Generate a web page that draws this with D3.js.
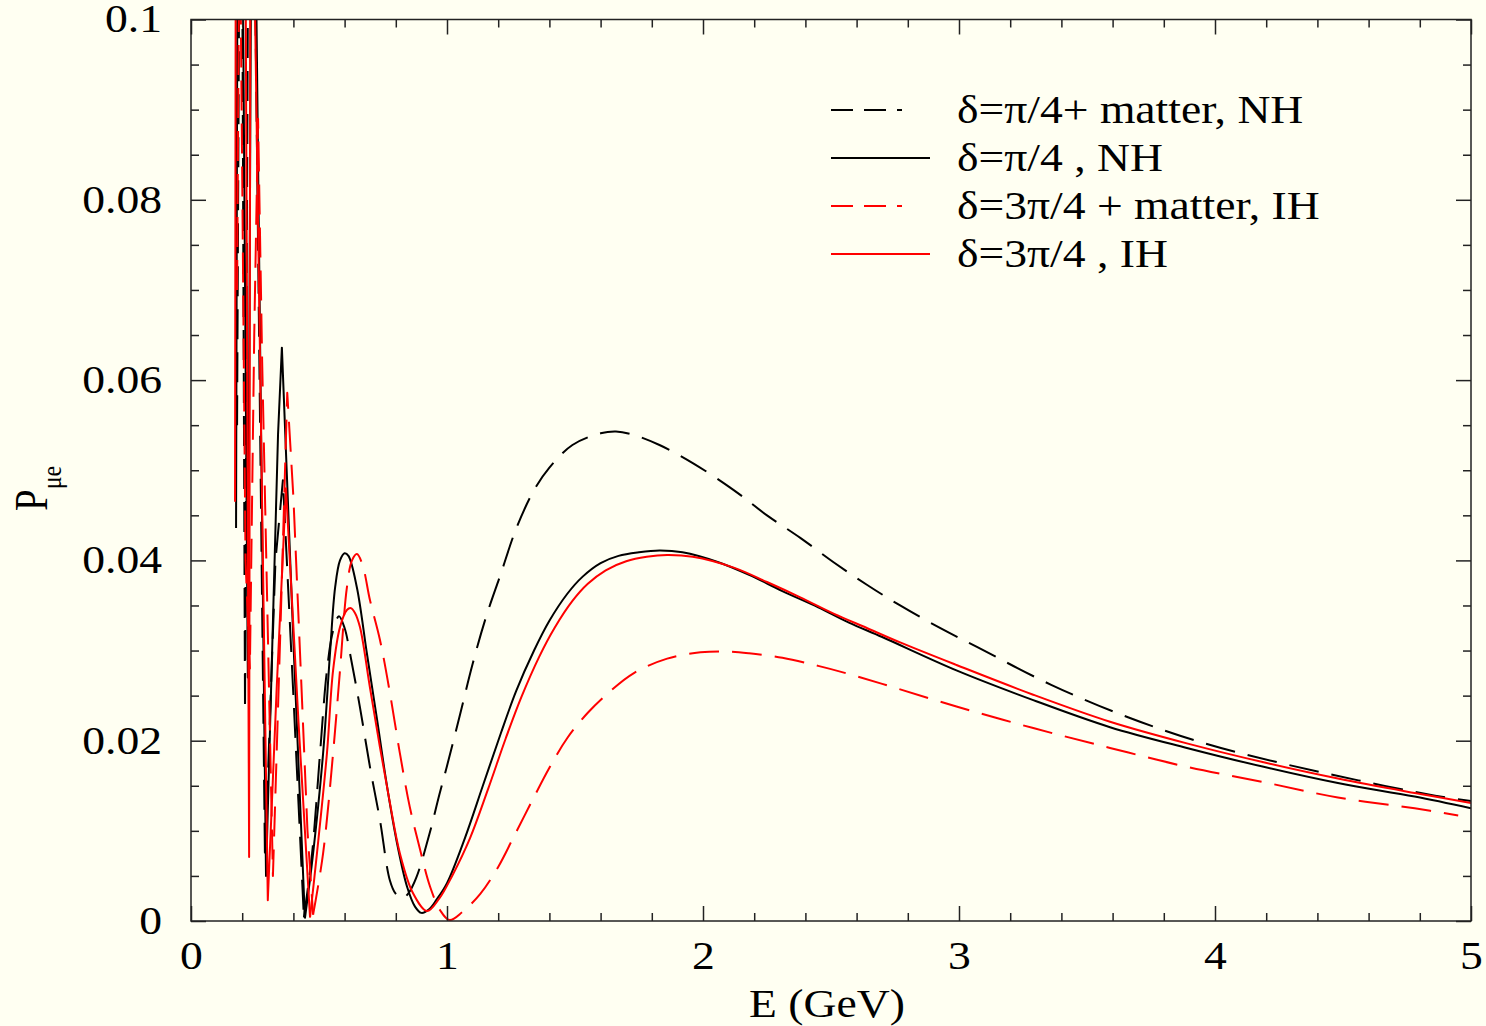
<!DOCTYPE html>
<html>
<head>
<meta charset="utf-8">
<script src="https://cdn.jsdelivr.net/npm/d3@7"></script>
<style>
  html, body { margin: 0; padding: 0; background: #fffff2; }
  svg text { font-family: "Liberation Serif", "Times New Roman", serif; fill: #000; }
</style>
</head>
<body>
<div class="canvas"></div>
<script>
// data: [E (GeV), P]
const nhMatter = [
  [0.180, 0.055], [0.190, 0.115], [0.199, 0.115], [0.211, 0.0234], [0.224, 0.115],
  [0.246, 0.115], [0.289, 0.0068], [0.330, 0.040], [0.359, 0.0489], [0.400, 0.025],
  [0.441, 0.0004],
  [0.473, 0.0075], [0.504, 0.0186], [0.531, 0.0278], [0.555, 0.0322], [0.578, 0.0338],
  [0.600, 0.0325], [0.621, 0.0297], [0.660, 0.0237], [0.699, 0.0171], [0.738, 0.0112],
  [0.777, 0.0045], [0.800, 0.0030], [0.825, 0.0025], [0.850, 0.0031], [0.880, 0.0048],
  [0.930, 0.0095], [0.970, 0.0140], [1.00, 0.0172], [1.05, 0.0228], [1.10, 0.0285],
  [1.15, 0.0335], [1.21, 0.0385], [1.27, 0.0435], [1.34, 0.0478], [1.40, 0.0503],
  [1.49, 0.0528], [1.60, 0.0541], [1.66, 0.0543], [1.72, 0.0540], [1.83, 0.0528],
  [1.96, 0.0508], [2.12, 0.0478], [2.25, 0.0450], [2.38, 0.0425], [2.51, 0.0398],
  [2.64, 0.0373], [2.77, 0.0350], [2.92, 0.0326], [3.07, 0.0304], [3.36, 0.0262],
  [3.66, 0.0226], [3.96, 0.0197], [4.26, 0.0175], [4.56, 0.0156], [4.86, 0.0139],
  [5.00, 0.0133]
];

const nhVacuum = [
  [0.176, 0.0436], [0.182, 0.115], [0.200, 0.115], [0.222, 0.027], [0.236, 0.115],
  [0.250, 0.115], [0.293, 0.005], [0.340, 0.054], [0.355, 0.0636], [0.400, 0.031],
  [0.445, 0.0003],
  [0.477, 0.0075], [0.516, 0.0186], [0.543, 0.0297], [0.563, 0.0370], [0.582, 0.0400],
  [0.600, 0.0408], [0.615, 0.0405], [0.648, 0.0370], [0.687, 0.0297], [0.727, 0.0223],
  [0.766, 0.0149], [0.805, 0.0086], [0.844, 0.0038], [0.875, 0.0016], [0.900, 0.0009],
  [0.930, 0.0013], [0.960, 0.0024], [1.00, 0.0042], [1.07, 0.0092], [1.14, 0.0150],
  [1.21, 0.0208], [1.27, 0.0255], [1.34, 0.0300], [1.40, 0.0333], [1.47, 0.0363],
  [1.53, 0.0382], [1.60, 0.0397], [1.67, 0.0405], [1.75, 0.0409], [1.83, 0.0411],
  [1.92, 0.0409], [2.06, 0.0398], [2.18, 0.0384], [2.31, 0.0366], [2.45, 0.0348],
  [2.57, 0.0331], [2.70, 0.0315], [2.99, 0.0278], [3.29, 0.0245], [3.59, 0.0215],
  [3.89, 0.0192], [4.19, 0.0171], [4.48, 0.0153], [4.78, 0.0138], [5.00, 0.0125]
];

const ihMatter = [
  [0.180, 0.070], [0.190, 0.115], [0.196, 0.096], [0.213, 0.040], [0.230, 0.028],
  [0.247, 0.065], [0.262, 0.089], [0.278, 0.062], [0.320, 0.005], [0.350, 0.033],
  [0.376, 0.0586], [0.400, 0.047], [0.430, 0.027], [0.455, 0.010], [0.477, 0.0007],
  [0.516, 0.0075], [0.555, 0.0186], [0.582, 0.0278], [0.609, 0.0370], [0.629, 0.0400],
  [0.648, 0.0407], [0.670, 0.0395], [0.699, 0.0356], [0.738, 0.0312], [0.777, 0.0253],
  [0.816, 0.0186], [0.855, 0.0126], [0.895, 0.0079], [0.934, 0.0038], [0.973, 0.0012],
  [1.01, 0.0001], [1.06, 0.0010], [1.13, 0.0030], [1.20, 0.0060], [1.26, 0.0093],
  [1.33, 0.0132], [1.40, 0.0170], [1.47, 0.0203], [1.55, 0.0231], [1.63, 0.0253],
  [1.73, 0.0275], [1.86, 0.0291], [1.99, 0.0298], [2.09, 0.0299], [2.18, 0.0297],
  [2.31, 0.0292], [2.45, 0.0283], [2.57, 0.0274], [2.70, 0.0263], [2.99, 0.0238],
  [3.29, 0.0214], [3.59, 0.0192], [3.89, 0.0171], [4.19, 0.0154], [4.48, 0.0137],
  [4.78, 0.0125], [4.95, 0.0117]
];

const ihVacuum = [
  [0.172, 0.0465], [0.175, 0.115], [0.212, 0.115], [0.227, 0.0071], [0.232, 0.115],
  [0.243, 0.115], [0.300, 0.0023], [0.335, 0.026], [0.371, 0.048], [0.420, 0.022],
  [0.465, 0.0004],
  [0.492, 0.0075], [0.531, 0.0186], [0.555, 0.0278], [0.582, 0.0326], [0.609, 0.0345],
  [0.625, 0.0347], [0.640, 0.0342], [0.660, 0.0326], [0.699, 0.0259], [0.738, 0.0193],
  [0.777, 0.0131], [0.816, 0.0075], [0.867, 0.0031], [0.922, 0.0011], [0.970, 0.0025],
  [1.02, 0.0050], [1.09, 0.0092], [1.16, 0.0146], [1.23, 0.0203], [1.29, 0.0248],
  [1.36, 0.0293], [1.42, 0.0325], [1.49, 0.0355], [1.55, 0.0374], [1.62, 0.0389],
  [1.70, 0.0399], [1.78, 0.0404], [1.86, 0.0406], [1.96, 0.0404], [2.12, 0.0392],
  [2.25, 0.0376], [2.38, 0.0359], [2.51, 0.0341], [2.64, 0.0325], [2.77, 0.0309],
  [2.99, 0.0284], [3.29, 0.0251], [3.59, 0.0221], [3.89, 0.0197], [4.19, 0.0176],
  [4.48, 0.0158], [4.78, 0.0142], [5.00, 0.0131]
];

const legendLabels = ["δ=π/4+ matter, NH", "δ=π/4 , NH", "δ=3π/4 + matter, IH", "δ=3π/4 , IH"];
const xTicks = [0, 1, 2, 3, 4, 5];
const xTickLabels = ["0", "1", "2", "3", "4", "5"];
const yTicks = [0, 0.02, 0.04, 0.06, 0.08, 0.1];
const yTickLabels = ["0", "0.02", "0.04", "0.06", "0.08", "0.1"];

// fast-oscillation part is drawn as a polyline, the rest smoothed
const series = [
  { data: nhMatter, color: "#000", dashed: true, split: 0.441 },
  { data: nhVacuum, color: "#000", dashed: false, split: 0.445 },
  { data: ihMatter, color: "#ff0000", dashed: true, split: 0.477 },
  { data: ihVacuum, color: "#ff0000", dashed: false, split: 0.465 }
];

const width = 1486;
const height = 1026;
const plotLeft = 191, plotRight = 1471, plotTop = 19.5, plotBottom = 921;
const stretch = 1.17; // text in the picture is a bit wide
const fontSize = 39;
const dash = "30,13";

const svg = d3.select(".canvas")
  .append("svg")
  .attr("width", width)
  .attr("height", height);

svg.append("rect")
  .attr("width", width)
  .attr("height", height)
  .attr("fill", "#fffff2");

const x = d3.scaleLinear().domain([0, 5]).range([plotLeft, plotRight]);
const y = d3.scaleLinear().domain([0, 0.1]).range([plotBottom, plotTop]);

svg.append("clipPath")
  .attr("id", "plot-clip")
  .append("rect")
  .attr("x", plotLeft)
  .attr("y", plotTop)
  .attr("width", plotRight - plotLeft)
  .attr("height", plotBottom - plotTop);

// curves
const lineLow = d3.line().x(d => x(d[0])).y(d => y(d[1])).curve(d3.curveLinear);
const lineHigh = d3.line().x(d => x(d[0])).y(d => y(d[1])).curve(d3.curveCatmullRom.alpha(0.5));

const curves = svg.append("g").attr("clip-path", "url(#plot-clip)");

series.forEach(s => {
  const low = s.data.filter(d => d[0] <= s.split);
  const high = s.data.filter(d => d[0] >= s.split);
  [[low, lineLow], [high, lineHigh]].forEach(([pts, gen]) => {
    curves.append("path")
      .datum(pts)
      .attr("fill", "none")
      .attr("stroke", s.color)
      .attr("stroke-width", 2)
      .attr("stroke-linejoin", "round")
      .attr("stroke-dasharray", s.dashed ? dash : null)
      .attr("d", gen);
  });
});

// axes: ticks point inward on all four sides
const axisColor = "#222";

function styleAxis(g) {
  g.select(".domain").remove();
  g.selectAll("line").attr("stroke", axisColor).attr("stroke-width", 1.5);
}

const xMinor = x.ticks(25).filter(v => !xTicks.includes(v));
const yMinor = y.ticks(20).filter(v => !yTicks.some(t => Math.abs(t - v) < 1e-9));

// bottom
svg.append("g")
  .attr("transform", `translate(0,${plotBottom})`)
  .call(d3.axisBottom(x).tickValues(xMinor).tickSize(-8).tickFormat(""))
  .call(styleAxis);

const xAxisGroup = svg.append("g")
  .attr("transform", `translate(0,${plotBottom})`)
  .call(d3.axisBottom(x).tickValues(xTicks).tickSize(-15).tickPadding(20)
    .tickFormat((d, i) => xTickLabels[i]))
  .call(styleAxis);

// top
svg.append("g")
  .attr("transform", `translate(0,${plotTop})`)
  .call(d3.axisTop(x).tickValues(xMinor).tickSize(-8).tickFormat(""))
  .call(styleAxis);
svg.append("g")
  .attr("transform", `translate(0,${plotTop})`)
  .call(d3.axisTop(x).tickValues(xTicks).tickSize(-15).tickFormat(""))
  .call(styleAxis);

// left
svg.append("g")
  .attr("transform", `translate(${plotLeft},0)`)
  .call(d3.axisLeft(y).tickValues(yMinor).tickSize(-8).tickFormat(""))
  .call(styleAxis);

const yAxisGroup = svg.append("g")
  .attr("transform", `translate(${plotLeft},0)`)
  .call(d3.axisLeft(y).tickValues(yTicks).tickSize(-15).tickPadding(29 / stretch)
    .tickFormat((d, i) => yTickLabels[i]))
  .call(styleAxis);

// right
svg.append("g")
  .attr("transform", `translate(${plotRight},0)`)
  .call(d3.axisRight(y).tickValues(yMinor).tickSize(-8).tickFormat(""))
  .call(styleAxis);
svg.append("g")
  .attr("transform", `translate(${plotRight},0)`)
  .call(d3.axisRight(y).tickValues(yTicks).tickSize(-15).tickFormat(""))
  .call(styleAxis);

[xAxisGroup, yAxisGroup].forEach(g => {
  g.selectAll("text")
    .attr("font-family", "Liberation Serif, Times New Roman, serif")
    .attr("font-size", fontSize)
    .attr("fill", "#000")
    .attr("transform", `scale(${stretch},1)`);
});

// frame
svg.append("rect")
  .attr("x", plotLeft)
  .attr("y", plotTop)
  .attr("width", plotRight - plotLeft)
  .attr("height", plotBottom - plotTop)
  .attr("fill", "none")
  .attr("stroke", axisColor)
  .attr("stroke-width", 1.5);

// axis titles
svg.append("text")
  .attr("transform", `translate(827,1017) scale(${stretch},1)`)
  .attr("text-anchor", "middle")
  .attr("font-size", fontSize)
  .text("E (GeV)");

const yTitle = svg.append("text")
  .attr("transform", `translate(47,511) scale(${stretch},1) rotate(-90)`)
  .attr("font-size", fontSize);
yTitle.append("tspan").text("P");
yTitle.append("tspan").attr("dy", 12).attr("font-size", 24).text("μe");

// legend
const legend = svg.append("g");
series.forEach((s, i) => {
  const ly = 110 + i * 48;
  legend.append("line")
    .attr("x1", 831)
    .attr("x2", s.dashed ? 902 : 930)
    .attr("y1", ly)
    .attr("y2", ly)
    .attr("stroke", s.color)
    .attr("stroke-width", 2)
    .attr("stroke-dasharray", s.dashed ? "22,11" : null);
  legend.append("text")
    .attr("transform", `translate(957,${ly + 13}) scale(${stretch},1)`)
    .attr("font-size", fontSize)
    .text(legendLabels[i]);
});
</script>
</body>
</html>
